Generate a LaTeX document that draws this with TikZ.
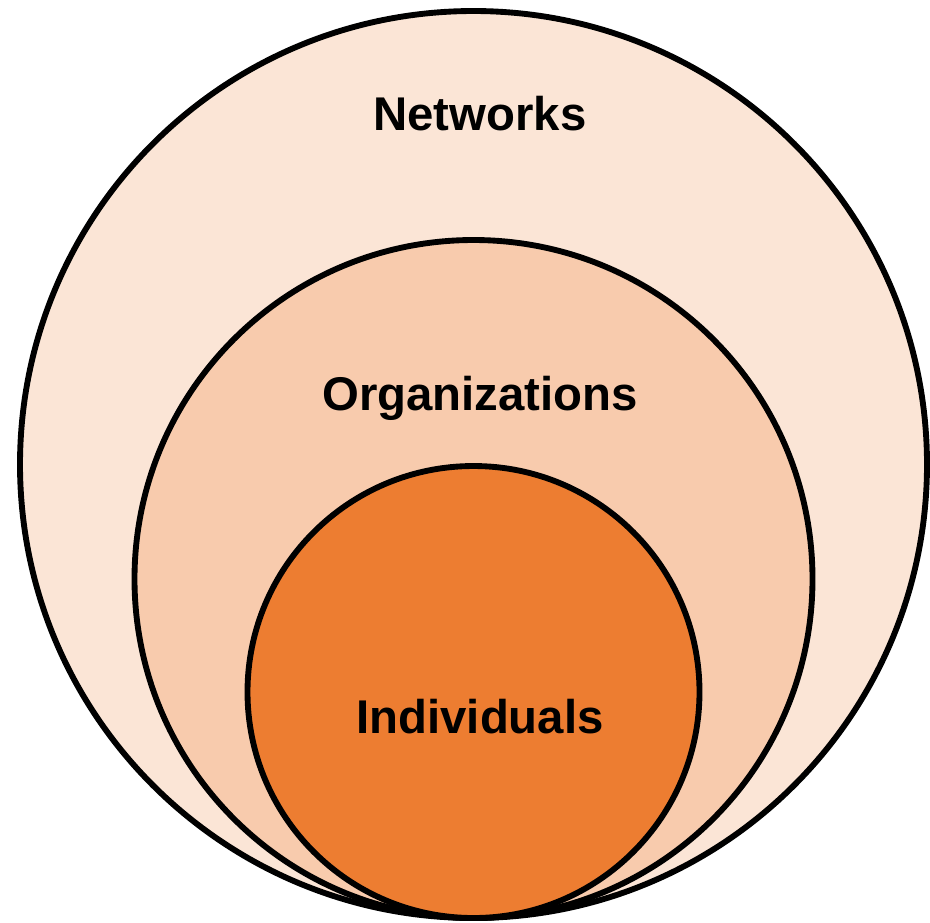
\documentclass[tikz,border=0pt]{standalone}
\usepackage{fontspec}
\setmainfont{Liberation Sans}
\usepackage{xcolor}
\usepackage{tikz}
\usetikzlibrary{positioning}

\definecolor{netfill}{HTML}{FBE5D6}
\definecolor{orgfill}{HTML}{F8CBAD}
\definecolor{indfill}{HTML}{ED7D31}

\begin{document}
\begin{tikzpicture}[x=0.75pt, y=-0.75pt]
            \tikzstyle{ring} = [circle, draw=black, line width=4.4pt, inner sep=0pt]
            \tikzstyle{level} = [font=\fontsize{35.5}{41}\selectfont\bfseries, anchor=base]
            \useasboundingbox (0,0) rectangle (930,922);

            % nested circles, all touching at the bottom
            \node [ring, fill=netfill, minimum size=680.25pt] (NET) at (473.5,464.5) {};
            \node [ring, fill=orgfill, minimum size=508.5pt] (ORG) at (473.5,579) {};
            \node [ring, fill=indfill, minimum size=339pt] (IND) at (473.5,692) {};

            \node [level] (L0) at (480,130) {Networks};
            \node [level] (L1) at (480,410) {Organizations};
            \node [level] (L2) at (480,733) {Individuals};
        \end{tikzpicture}
\end{document}
